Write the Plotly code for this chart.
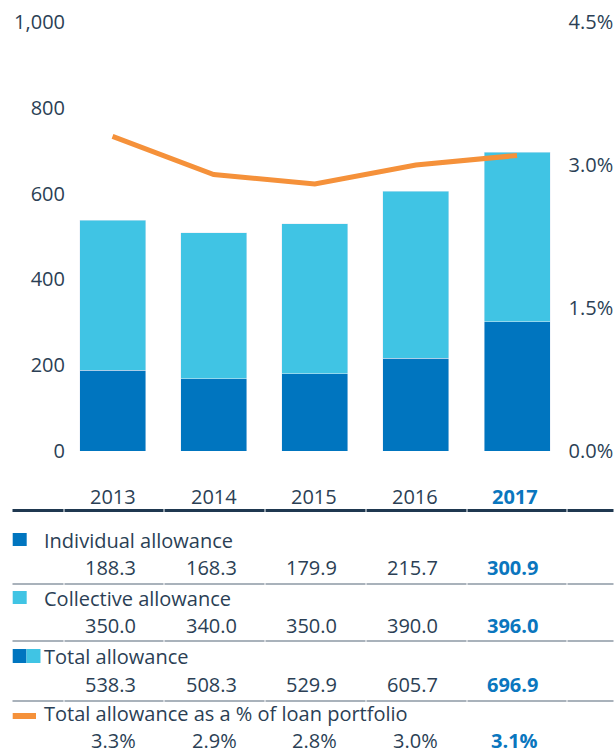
import plotly.graph_objects as go

# Allowance data (EUR millions) and ratio to loan portfolio (%)
years = ["2013", "2014", "2015", "2016", "2017"]
individual = [188.3, 168.3, 179.9, 215.7, 300.9]
collective = [350.0, 340.0, 350.0, 390.0, 396.0]
total = [538.3, 508.3, 529.9, 605.7, 696.9]
pct_of_loans = [3.3, 2.9, 2.8, 3.0, 3.1]

left_ticks = [0, 200, 400, 600, 800, 1000]
right_ticks = [0.0, 1.5, 3.0, 4.5]

DARK_BLUE = "#0075bf"
LIGHT_BLUE = "#40c4e4"
ORANGE = "#f5913a"
TEXT = "#2b3f55"
HILITE = "#0a76be"
RULE_DARK = "#1f3850"
RULE_LIGHT = "#8c98a5"
FONT = "Open Sans"
FS = 20

W, H = 614, 754


def px(x):
    return x / W


def py(y):
    return 1 - y / H


fig = go.Figure()
fig.add_trace(go.Bar(x=years, y=individual, marker_color=DARK_BLUE,
                     name="Individual allowance", yaxis="y"))
fig.add_trace(go.Bar(x=years, y=collective, marker_color=LIGHT_BLUE,
                     name="Collective allowance", yaxis="y"))
fig.add_trace(go.Scatter(x=years, y=pct_of_loans, mode="lines",
                         line=dict(color=ORANGE, width=5),
                         name="Total allowance as a % of loan portfolio",
                         yaxis="y2"))

shapes = []
annotations = []

# Table rules: heavy rule under the year header, light rules between rows
col_edges = [12, 64, 164, 265, 366, 467, 567, 614]


def rule(y, color, width):
    for a, b in zip(col_edges[:-1], col_edges[1:]):
        shapes.append(dict(type="line", xref="paper", yref="paper",
                           x0=px(a + 0.5), x1=px(b - 0.5), y0=py(y), y1=py(y),
                           line=dict(color=color, width=width)))


rule(510.5, RULE_DARK, 3)
for y in (584, 641, 701):
    rule(y, RULE_LIGHT, 1.5)

col_right = [137 + 100.6 * i for i in range(len(years))]


def row_values(texts, y):
    for i, t in enumerate(texts):
        last = i == len(texts) - 1
        annotations.append(dict(
            xref="paper", yref="paper", x=px(col_right[i]), y=py(y),
            xanchor="right", yanchor="middle", showarrow=False, borderpad=0,
            text=f"<b>{t}</b>" if last else t,
            font=dict(family=FONT, size=FS, color=HILITE if last else TEXT)))


def row_title(text, y):
    annotations.append(dict(
        xref="paper", yref="paper", x=px(43), y=py(y),
        xanchor="left", yanchor="middle", showarrow=False, borderpad=0,
        text=text, font=dict(family=FONT, size=FS, color=TEXT)))


def swatch(x0, x1, y0, y1, color):
    shapes.append(dict(type="rect", xref="paper", yref="paper",
                       x0=px(x0), x1=px(x1), y0=py(y1), y1=py(y0),
                       fillcolor=color, line=dict(width=0)))


row_values(years, 496)

swatch(12.7, 26.7, 533, 546, DARK_BLUE)
row_title("Individual allowance", 540)
row_values([f"{v:.1f}" for v in individual], 567)

swatch(12.7, 26.7, 591, 604, LIGHT_BLUE)
row_title("Collective allowance", 598)
row_values([f"{v:.1f}" for v in collective], 625)

swatch(12.7, 26.5, 649, 663, DARK_BLUE)
swatch(26.5, 40.5, 649, 663, LIGHT_BLUE)
row_title("Total allowance", 656)
row_values([f"{v:.1f}" for v in total], 684)

swatch(12.7, 36, 713, 719, ORANGE)
row_title("Total allowance as a % of loan portfolio", 713)
row_values([f"{v:.1f}%" for v in pct_of_loans], 740.5)

fig.update_layout(
    width=W, height=H,
    margin=dict(l=0, r=0, t=0, b=0),
    paper_bgcolor="white", plot_bgcolor="white",
    barmode="stack", bargap=0.347,
    showlegend=False,
    font=dict(family=FONT, size=FS, color=TEXT),
    xaxis=dict(domain=[px(66), px(567.6)], range=[-0.46, 4.5],
               showticklabels=False, showgrid=False, zeroline=False,
               showline=False, ticks="", automargin=False),
    yaxis=dict(domain=[py(451), py(22)], range=[0, 1000],
               tickvals=left_ticks, tickformat=",",
               showgrid=False, zeroline=False, showline=False, ticks="",
               automargin=False, tickfont=dict(family=FONT, size=FS, color=TEXT)),
    yaxis2=dict(overlaying="y", side="right", range=[0, 4.5],
                tickvals=right_ticks,
                ticktext=[f"{v:.1f}%" for v in right_ticks],
                showgrid=False, zeroline=False, showline=False, ticks="",
                automargin=False, tickfont=dict(family=FONT, size=FS, color=TEXT)),
    shapes=shapes,
    annotations=annotations,
)

fig.write_html("out.html")
